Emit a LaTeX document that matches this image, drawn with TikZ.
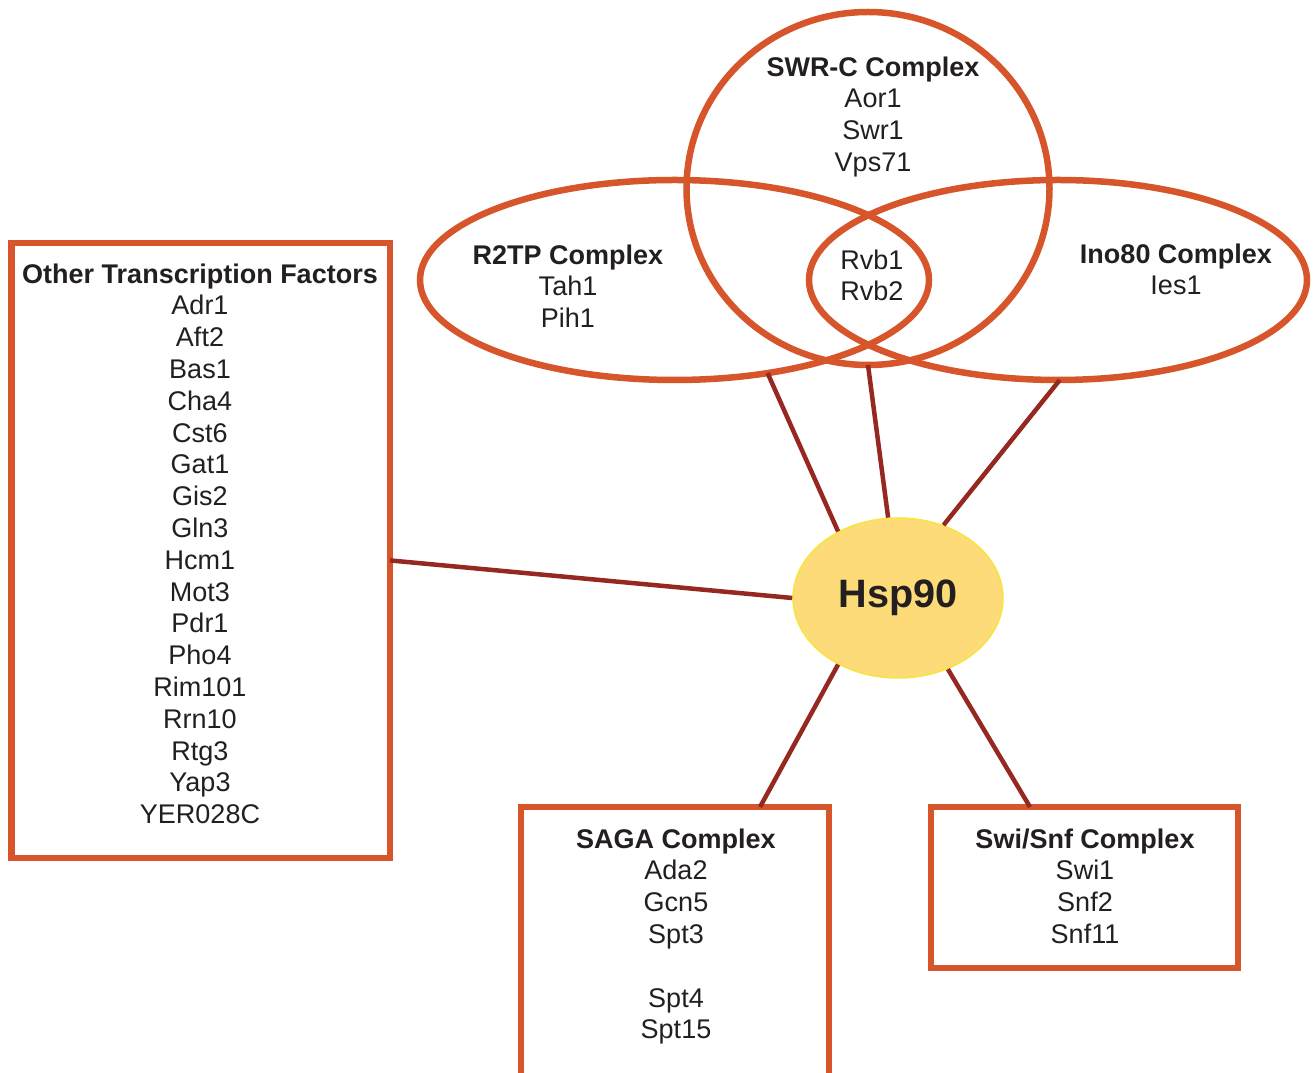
\documentclass[tikz,border=0pt]{standalone}
\usepackage{fontspec}
\setmainfont{Liberation Sans}
\usetikzlibrary{shapes.geometric}
\definecolor{venn}{HTML}{D6552B}
\definecolor{link}{HTML}{952820}
\definecolor{ink}{HTML}{231F20}
\definecolor{chaperone}{HTML}{FCDB78}
\definecolor{rim}{HTML}{F7E43F}
\begin{document}
\begin{tikzpicture}[x=1pt, y=1pt,
  group/.style={draw=venn, line width=6.5pt, outer sep=0pt},
  complexbox/.style={group, rectangle},
  complexring/.style={group, ellipse},
  members/.style={align=center, inner sep=0pt, anchor=north, text=ink,
    font=\fontsize{27}{31.8}\selectfont},
  interaction/.style={draw=link, line width=4.5pt}]
  \useasboundingbox (0,0) rectangle (1315,1072);
  \clip (0,0) rectangle (1315,1072);
  % complexes
  \node[complexbox, minimum width=378.5pt, minimum height=615pt] (othertf) at (200.75,521.5) {};
  \node[complexbox, minimum width=308pt, minimum height=285pt] (saga) at (675,122.5) {};
  \node[complexbox, minimum width=307pt, minimum height=161pt] (swisnf) at (1084.5,184.5) {};
  \node[complexring, minimum width=363pt, minimum height=353pt] (swrc) at (868,883.5) {};
  \node[complexring, minimum width=509pt, minimum height=200pt] (r2tp) at (674.5,792) {};
  \node[complexring, minimum width=498pt, minimum height=200pt] (ino80) at (1058,792) {};
  % members
  \node[members] (othertflist) at (200,808.7) {\textbf{Other Transcription Factors}\\
    Adr1\\Aft2\\Bas1\\Cha4\\Cst6\\Gat1\\Gis2\\Gln3\\Hcm1\\Mot3\\Pdr1\\Pho4\\Rim101\\Rrn10\\Rtg3\\Yap3\\YER028C};
  \node[members] (sagalist) at (676,243.7) {\textbf{SAGA Complex}\\Ada2\\Gcn5\\Spt3\\ \\Spt4\\Spt15};
  \node[members] (swisnflist) at (1085,243.7) {\textbf{Swi/Snf Complex}\\Swi1\\Snf2\\Snf11};
  \node[members] (swrclist) at (873,1015.7) {\textbf{SWR-C Complex}\\Aor1\\Swr1\\Vps71};
  \node[members] (r2tplist) at (568,827.7) {\textbf{R2TP Complex}\\Tah1\\Pih1};
  \node[members] (ino80list) at (1176,828.7) {\textbf{Ino80 Complex}\\Ies1};
  \node[members] (rvblist) at (872,822.7) {Rvb1\\Rvb2};
  % chaperone
  \node[ellipse, fill=chaperone, draw=rim, line width=1.5pt, minimum width=210pt, minimum height=160pt,
    text=ink, font=\fontsize{39.6}{44}\selectfont\bfseries] (hsp90) at (898,474) {Hsp90};
  % interactions
  \draw[interaction] (othertf.-3.5) -- (hsp90.west);
  \draw[interaction] (r2tp.-45.5) -- (hsp90.132.7);
  \draw[interaction] (swrc.south) -- (hsp90.97);
  \draw[interaction] (ino80.-89) -- (hsp90.58);
  \draw[interaction] (hsp90.-132) -- ([xshift=85pt]saga.north);
  \draw[interaction] (hsp90.-55) -- ([xshift=-54.5pt]swisnf.north);
\end{tikzpicture}
\end{document}
